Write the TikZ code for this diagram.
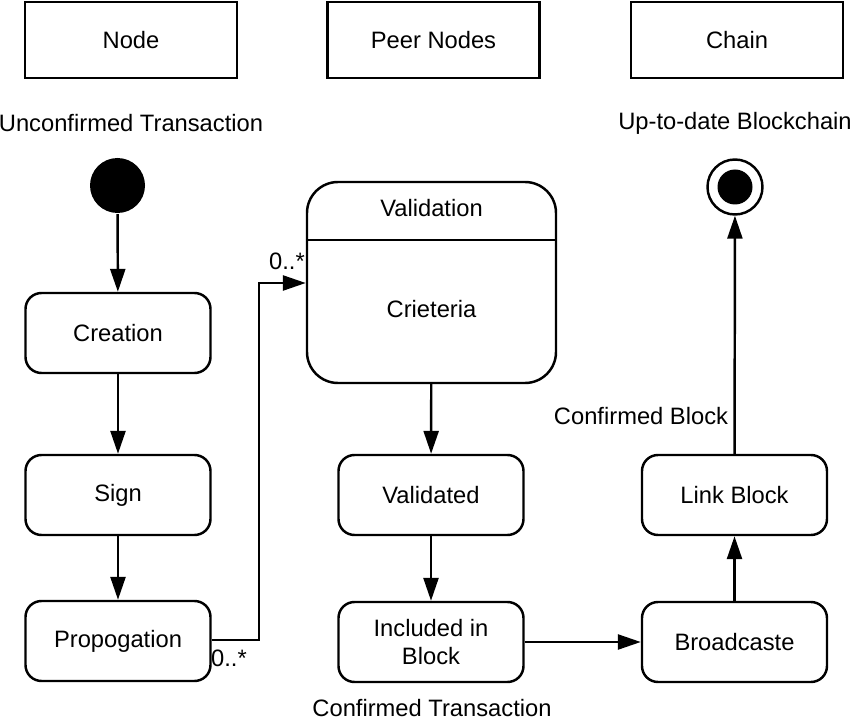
\documentclass[tikz,border=0pt]{standalone}
\usepackage{fontspec}
\setmainfont{Liberation Sans}
\usetikzlibrary{arrows.meta}

\begin{document}
\begin{tikzpicture}[line width=1.4pt,
    font=\fontsize{13.5}{16}\selectfont,
    >={Triangle[length=13pt,width=8.5pt]}]

      \useasboundingbox (0,0) rectangle (17,-14.38);

      % swimlane headers
      \begin{scope}[every node/.style={rectangle,draw,minimum width=4.24cm,minimum height=1.52cm}]
        \node (node)  at (2.62,-0.80)  {Node};
        \node (peer)  at (8.67,-0.80)  {Peer Nodes};
        \node (chain) at (14.74,-0.80) {Chain};
      \end{scope}

      % plain captions
      \node (unconf) at (2.62,-2.46)  {Unconfirmed Transaction};
      \node (uptodate) at (14.70,-2.46) {Up-to-date Blockchain};
      \node (confblock) at (12.82,-8.32) {Confirmed Block};
      \node (conftrans) at (8.64,-14.16) {Confirmed Transaction};

      % start and end
      \node[circle,fill=black,minimum size=1.1cm,inner sep=0pt] (start) at (2.35,-3.71) {};
      \node[circle,draw,minimum size=1.1cm,inner sep=0pt] (end) at (14.70,-3.74) {};
      \node[circle,fill=black,minimum size=0.7cm,inner sep=0pt] (endin) at (end) {};

      % states
      \begin{scope}[every node/.style={rectangle,draw,rounded corners=0.32cm,
          minimum width=3.7cm,minimum height=1.6cm,align=center}]
        \node (creat) at (2.36,-6.66)  {Creation};
        \node (sign)  at (2.36,-9.90)  {Sign};
        \node (prop)  at (2.36,-12.82) {Propogation};
        \node (valid) at (8.62,-9.90)  {Validated};
        \node (incl)  at (8.62,-12.84) {Included in\\Block};
        \node (broad) at (14.69,-12.84) {Broadcaste};
        \node (link)  at (14.69,-9.90)  {Link Block};
      \end{scope}

      % composite validation state
      \node[rectangle,draw,rounded corners=0.62cm,minimum width=4.98cm,minimum height=4.02cm] (valbox) at (8.63,-5.65) {};
      \draw (valbox.west |- 0,-4.80) -- (valbox.east |- 0,-4.80);
      \node (valtitle) at (8.63,-4.16) {Validation};
      \node (crit) at (8.63,-6.18) {Crieteria};

      \coordinate (bend) at (5.18,-12.80);

      \begin{scope}[every edge/.style={draw,->}]
        \path (start) edge (creat);
        \path (creat) edge (sign);
        \path (sign)  edge (prop);
        \path (valbox) edge (valid);
        \path (valid) edge (incl);
        \path (incl)  edge (broad);
        \path (broad) edge (link);
        \path (link)  edge (end);
      \end{scope}

      \draw[->] (prop.east |- bend) -- (bend) |- (valbox.west |- 0,-5.66);
      \node (m1) at (5.74,-5.22) {0..*};
      \node (m2) at (4.58,-13.16) {0..*};

    \end{tikzpicture}
\end{document}
